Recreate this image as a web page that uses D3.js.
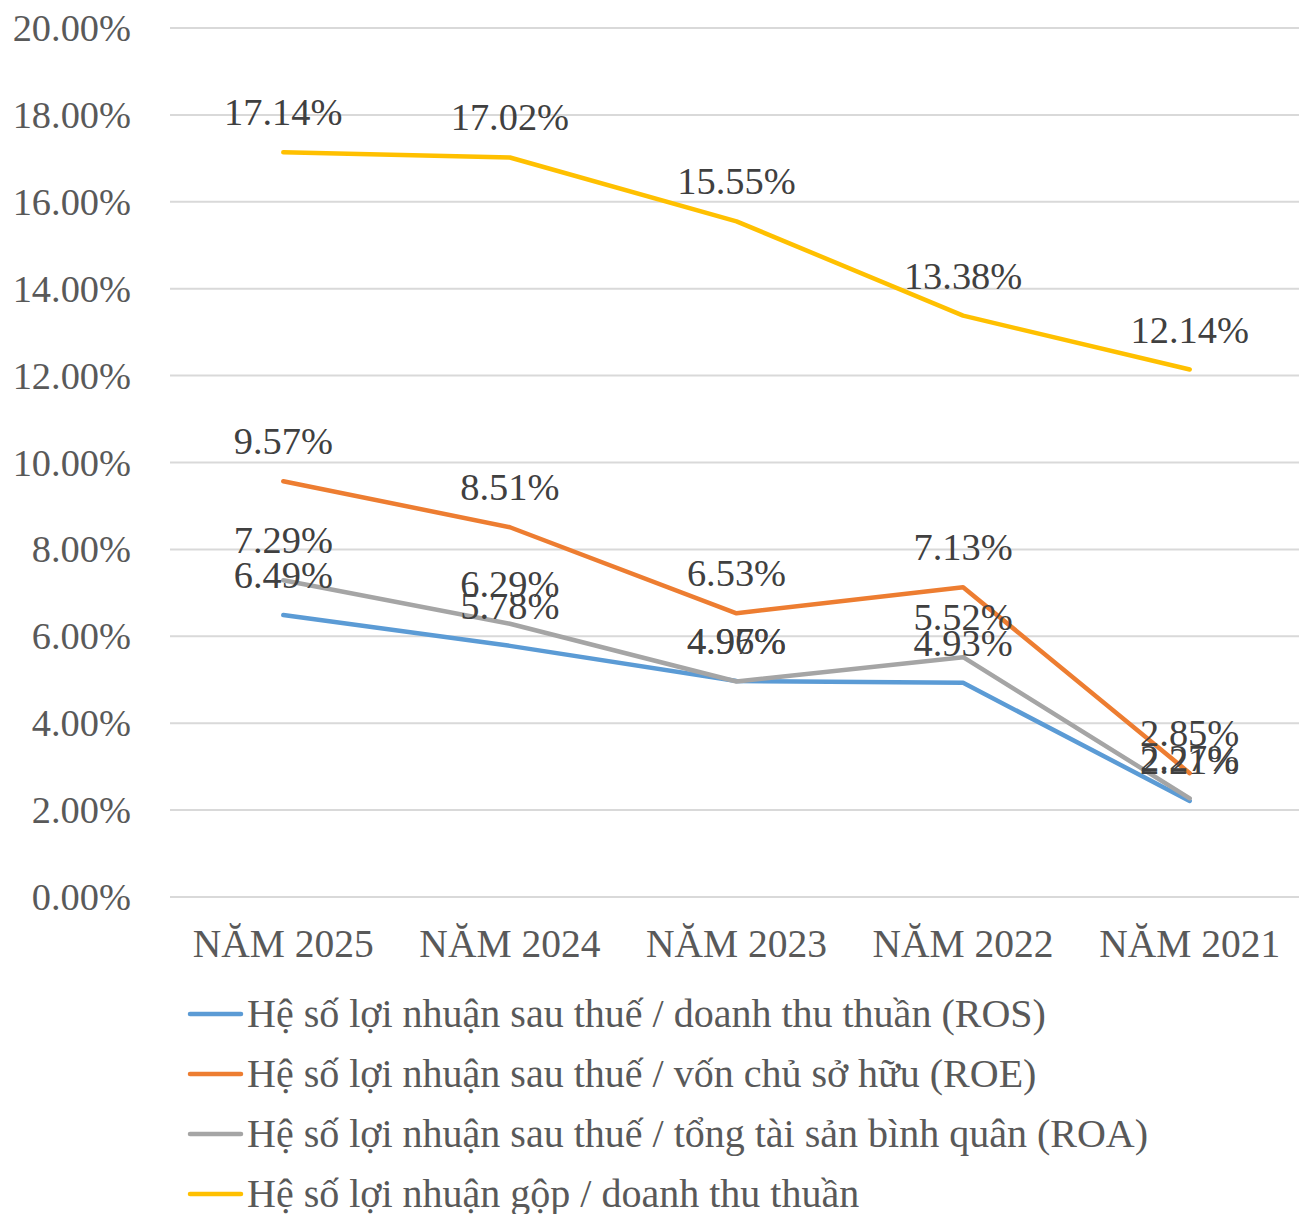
<!DOCTYPE html>
<html>
  <head>
    <meta charset="utf-8" />
    <title>chart</title>
    <script src="https://cdn.jsdelivr.net/npm/d3@7"></script>
    <style type="text/css">
      body { margin: 0; background: #fff; }
      text { font-family: "Liberation Serif", "Times New Roman", serif; }
    </style>
  </head>
  <body>
    <svg id="chart" width="1299" height="1214"></svg>
    <script type="text/javascript">
      // dữ liệu
      var years = ['NĂM 2025', 'NĂM 2024', 'NĂM 2023', 'NĂM 2022', 'NĂM 2021'];
      var ros = [6.49, 5.78, 4.97, 4.93, 2.21];
      var roe = [9.57, 8.51, 6.53, 7.13, 2.85];
      var roa = [7.29, 6.29, 4.96, 5.52, 2.27];
      var gross = [17.14, 17.02, 15.55, 13.38, 12.14];
      var yTicks = [0, 2, 4, 6, 8, 10, 12, 14, 16, 18, 20];

      var series = [
        { name: 'Hệ số lợi nhuận sau thuế / doanh thu thuần (ROS)', values: ros, color: '#5B9BD5' },
        { name: 'Hệ số lợi nhuận sau thuế / vốn chủ sở hữu (ROE)', values: roe, color: '#ED7D31' },
        { name: 'Hệ số lợi nhuận sau thuế / tổng tài sản bình quân (ROA)', values: roa, color: '#A5A5A5' },
        { name: 'Hệ số lợi nhuận gộp / doanh thu thuần', values: gross, color: '#FFC000' },
      ];

      var svg = d3.select('#chart');
      var pL = 170, pR = 1303, pT = 28, pB = 897;
      var fsNum = 38.4, fsX = 39.5, fsLeg = 40;

      var x = d3.scaleBand().domain(years).range([pL, pR]);
      var y = d3.scaleLinear().domain([0, 20]).range([pB, pT]);
      var cx = (d) => x(d) + x.bandwidth() / 2;

      // lưới
      svg.append('g')
        .selectAll('line')
        .data(yTicks)
        .enter()
        .append('line')
        .attr('x1', pL)
        .attr('x2', pR)
        .attr('y1', (d) => y(d))
        .attr('y2', (d) => y(d))
        .attr('stroke', '#d9d9d9')
        .attr('stroke-width', 2);

      // trục y
      svg.append('g')
        .selectAll('text')
        .data(yTicks)
        .enter()
        .append('text')
        .attr('x', 131)
        .attr('y', (d) => y(d) + 13)
        .attr('text-anchor', 'end')
        .attr('font-size', fsNum)
        .attr('fill', '#595959')
        .text((d) => d.toFixed(2) + '%');

      // trục x
      svg.append('g')
        .selectAll('text')
        .data(years)
        .enter()
        .append('text')
        .attr('x', (d) => cx(d))
        .attr('y', 957)
        .attr('text-anchor', 'middle')
        .attr('font-size', fsX)
        .attr('fill', '#595959')
        .text((d) => d);

      var line = d3.line()
        .x((d, i) => cx(years[i]))
        .y((d) => y(d));

      svg.append('g')
        .selectAll('path')
        .data(series)
        .enter()
        .append('path')
        .attr('d', (s) => line(s.values))
        .attr('fill', 'none')
        .attr('stroke', (s) => s.color)
        .attr('stroke-width', 4.5)
        .attr('stroke-linejoin', 'round')
        .attr('stroke-linecap', 'round');

      // nhãn dữ liệu
      series.forEach(function (s) {
        svg.append('g')
          .selectAll('text')
          .data(s.values)
          .enter()
          .append('text')
          .attr('x', (d, i) => cx(years[i]))
          .attr('y', (d) => y(d) - 27)
          .attr('text-anchor', 'middle')
          .attr('font-size', fsNum)
          .attr('fill', '#404040')
          .text((d) => d.toFixed(2) + '%');
      });

      // chú giải
      var lg = svg.append('g')
        .selectAll('g')
        .data(series)
        .enter()
        .append('g')
        .attr('transform', (d, i) => 'translate(0,' + (1014 + i * 60) + ')');
      lg.append('line')
        .attr('x1', 190)
        .attr('x2', 241)
        .attr('stroke', (d) => d.color)
        .attr('stroke-width', 4.5)
        .attr('stroke-linecap', 'round');
      lg.append('text')
        .attr('x', 247)
        .attr('y', 13)
        .attr('font-size', fsLeg)
        .attr('fill', '#595959')
        .text((d) => d.name);
    </script>
  </body>
</html>
